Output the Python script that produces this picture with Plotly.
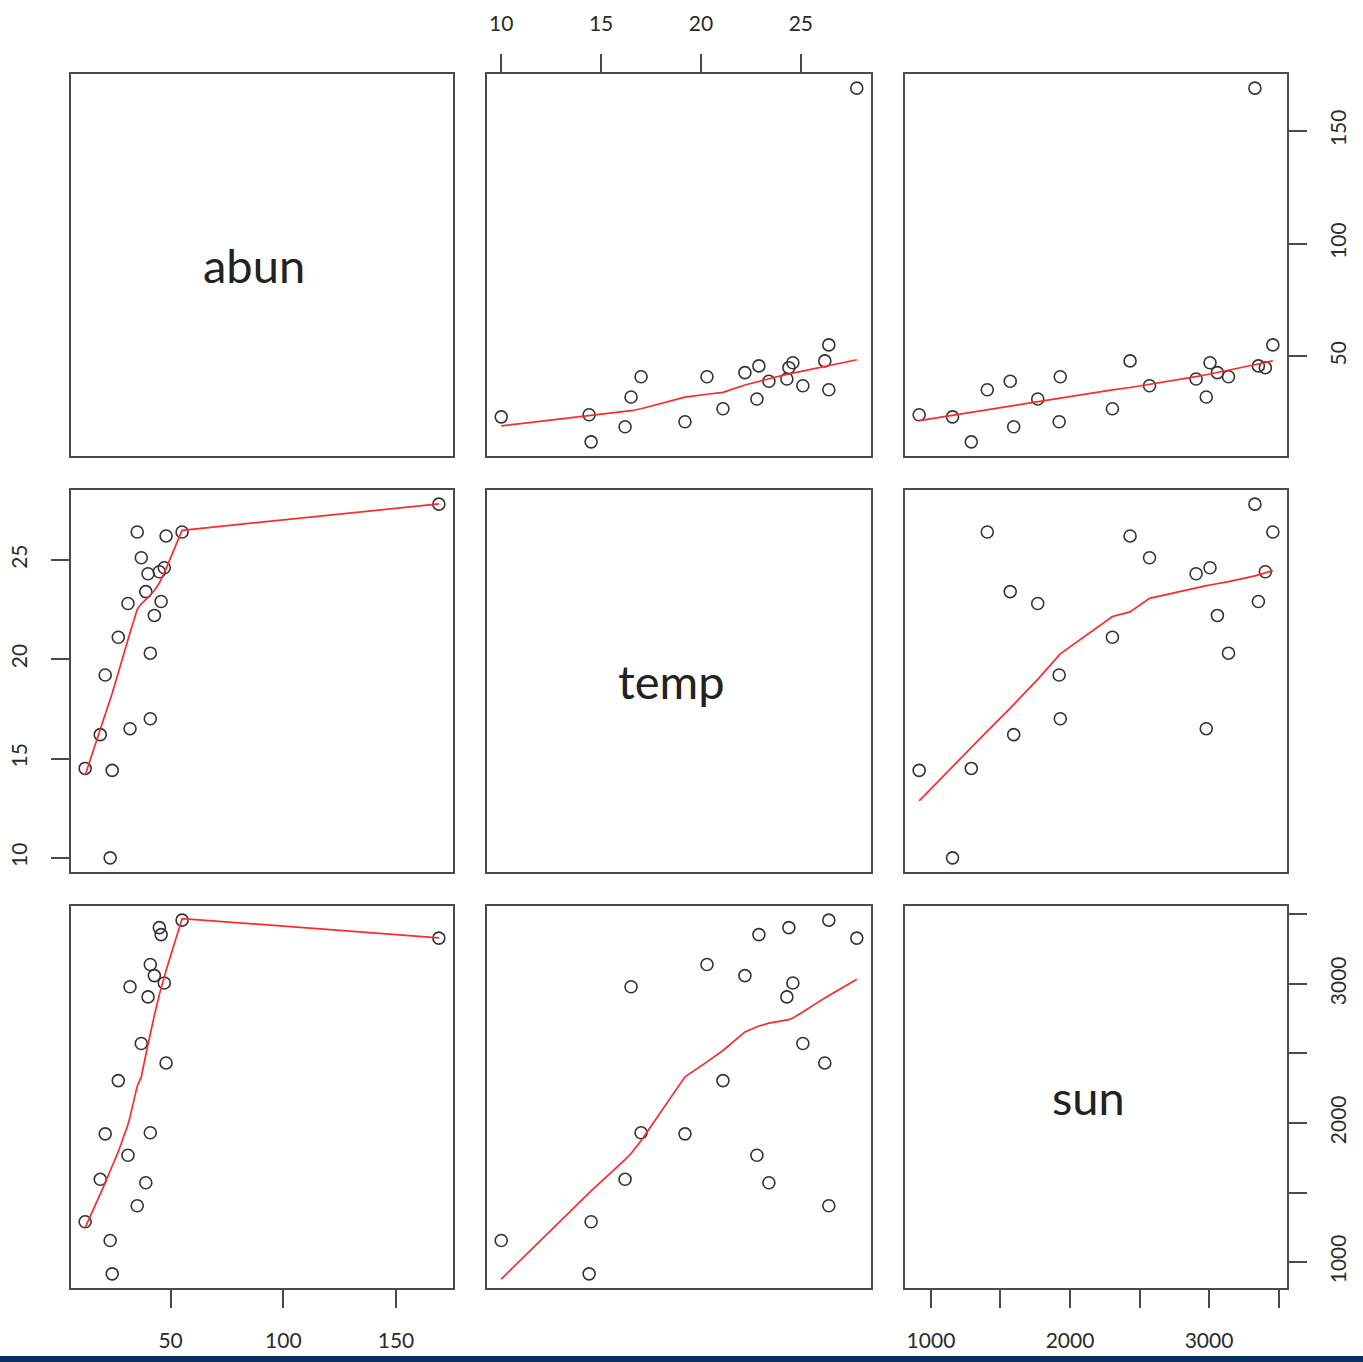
import numpy as np
import plotly.graph_objects as go
from plotly.subplots import make_subplots

# ---- data ----
abun = [23.2, 12.1, 24.1, 18.8, 32.0, 41.0, 21.0, 41.0, 26.8, 42.8, 31.1,
        45.8, 39.0, 40.0, 45.0, 47.2, 37.0, 48.0, 55.1, 35.2, 169.0]
temp = [10.0, 14.5, 14.4, 16.2, 16.5, 17.0, 19.2, 20.3, 21.1, 22.2, 22.8,
        22.9, 23.4, 24.3, 24.4, 24.6, 25.1, 26.2, 26.4, 26.4, 27.8]
sun = [1155, 1290, 915, 1595, 2980, 1930, 1922, 3140, 2305, 3060, 1768,
       3355, 1570, 2907, 3405, 3007, 2572, 2432, 3459, 1405, 3330]

var_names = ["abun", "temp", "sun"]
abun_ticks = [50, 100, 150]
temp_ticks = [10, 15, 20, 25]
sun_ticks = [1000, 1500, 2000, 2500, 3000, 3500]
sun_ticktext = ["1000", "", "2000", "", "3000", ""]

data = {"abun": np.array(abun, float), "temp": np.array(temp, float),
        "sun": np.array(sun, float)}
ticks = {"abun": (abun_ticks, [str(t) for t in abun_ticks]),
         "temp": (temp_ticks, [str(t) for t in temp_ticks]),
         "sun": (sun_ticks, sun_ticktext)}


# ---- R's lowess (clowess) ----
def _lowest(x, y, xs, nleft, nright, rw, userw):
    n = len(x)
    rng = x[-1] - x[0]
    h = max(xs - x[nleft], x[nright] - xs)
    h9, h1 = 0.999 * h, 0.001 * h
    w = np.zeros(n)
    a = 0.0
    j = nleft
    while j < n:
        r = abs(x[j] - xs)
        if r <= h9:
            w[j] = 1.0 if r <= h1 else (1 - (r / h) ** 3) ** 3
            if userw:
                w[j] *= rw[j]
            a += w[j]
        elif x[j] > xs:
            break
        j += 1
    nrt = j - 1
    if a <= 0:
        return 0.0, False
    sl = slice(nleft, nrt + 1)
    w[sl] /= a
    if h > 0:
        a = np.sum(w[sl] * x[sl])
        b = xs - a
        c = np.sum(w[sl] * (x[sl] - a) ** 2)
        if np.sqrt(c) > 0.001 * rng:
            b /= c
            w[sl] = w[sl] * (b * (x[sl] - a) + 1.0)
    return float(np.sum(w[sl] * y[sl])), True


def lowess(xv, yv, f=2 / 3, nsteps=3):
    o = np.argsort(xv, kind="stable")
    x = np.asarray(xv, float)[o]
    y = np.asarray(yv, float)[o]
    n = len(x)
    delta = 0.01 * (x[-1] - x[0])
    ns = max(min(int(f * n + 1e-7), n), 2)
    ys = np.zeros(n)
    rw = np.ones(n)
    it = 1
    while it <= nsteps + 1:
        nleft, nright, last, i = 0, ns - 1, -1, 0
        while True:
            if nright < n - 1:
                d1 = x[i] - x[nleft]
                d2 = x[nright + 1] - x[i]
                if d1 > d2:
                    nleft += 1
                    nright += 1
                    continue
            val, ok = _lowest(x, y, x[i], nleft, nright, rw, it > 1)
            ys[i] = val if ok else y[i]
            if last < i - 1:
                denom = x[i] - x[last]
                for j in range(last + 1, i):
                    al = (x[j] - x[last]) / denom
                    ys[j] = al * ys[i] + (1 - al) * ys[last]
            last = i
            cut = x[last] + delta
            i = last + 1
            while i < n:
                if x[i] > cut:
                    break
                if x[i] == x[last]:
                    ys[i] = ys[last]
                    last = i
                i += 1
            i = max(last + 1, i - 1)
            if last >= n - 1:
                break
        res = y - ys
        sc = np.mean(np.abs(res))
        if it > nsteps:
            break
        ar = np.abs(res)
        srt = np.sort(ar)
        cmad = 6 * srt[n // 2] if n % 2 else 3 * (srt[n // 2] + srt[n // 2 - 1])
        if cmad < 1e-7 * sc:
            break
        c9, c1 = 0.999 * cmad, 0.001 * cmad
        rw = np.where(ar <= c1, 1.0, np.where(ar <= c9, (1 - (ar / cmad) ** 2) ** 2, 0.0))
        it += 1
    return x, ys


def padded(v):
    lo, hi = v.min(), v.max()
    p = 0.04 * (hi - lo)
    return [lo - p, hi + p]


W, H = 1363, 1362
ML, MR, MT, MB = 71, 76, 74, 74
pw = W - ML - MR   # 1216
ph = H - MT - MB   # 1214

# panel pixel boxes (relative to plot area)
col_px = [(0, 382), (416, 800), (834, 1216)]
row_px = [(0, 382), (416, 798), (832, 1214)]   # from top

fig = make_subplots(rows=3, cols=3)

LINE = "#4a4a4a"
TXT = "#2b2b2b"
FONT = "Lato, 'Open Sans', sans-serif"

for r in range(1, 4):
    for c in range(1, 4):
        xv = var_names[c - 1]
        yv = var_names[r - 1]
        k = (r - 1) * 3 + c
        sfx = "" if k == 1 else str(k)
        if r != c:
            fig.add_trace(go.Scatter(
                x=data[xv], y=data[yv], mode="markers",
                marker=dict(symbol="circle-open", size=12, color="#333333",
                            line=dict(width=1.6, color="#333333")),
                showlegend=False, hoverinfo="skip"), row=r, col=c)
            lx, ly = lowess(data[xv], data[yv])
            fig.add_trace(go.Scatter(
                x=lx, y=ly, mode="lines",
                line=dict(color="#ff2a2a", width=1.7),
                showlegend=False, hoverinfo="skip"), row=r, col=c)
        else:
            # invisible trace so the diagonal panel (box + axes) is drawn
            fig.add_trace(go.Scatter(
                x=data[xv], y=data[yv], mode="markers",
                marker=dict(opacity=0), showlegend=False, hoverinfo="skip"),
                row=r, col=c)
            fig.add_annotation(text=xv, xref=f"x{sfx} domain", yref=f"y{sfx} domain",
                               x=0.5, y=0.5, xshift=-8, showarrow=False,
                               font=dict(size=47, color="#222222", family=FONT))
        x0, x1 = col_px[c - 1]
        t0, t1 = row_px[r - 1]
        base = dict(showgrid=False, zeroline=False, showline=True, mirror=True,
                    linecolor=LINE, linewidth=2, showticklabels=False, ticks="",
                    automargin=False)
        xa = dict(base, range=padded(data[xv]), domain=[x0 / pw, x1 / pw])
        ya = dict(base, range=padded(data[yv]),
                  domain=[1 - t1 / ph, 1 - t0 / ph])
        tickstyle = dict(ticks="outside", ticklen=18, tickwidth=2, tickcolor=LINE,
                         showticklabels=True,
                         tickfont=dict(size=21, color=TXT, family=FONT))
        if (r == 1 and c == 2) or (r == 3 and c in (1, 3)):
            tv, tt = ticks[xv]
            xa.update(tickstyle, tickvals=tv, ticktext=tt,
                      side="top" if r == 1 else "bottom",
                      ticklabelstandoff=15 if r == 1 else 15)
        if (r == 2 and c == 1) or (c == 3 and r in (1, 3)):
            tv, tt = ticks[yv]
            ya.update(tickstyle, tickvals=tv, ticktext=tt, tickangle=-90,
                      side="left" if c == 1 else "right",
                      ticklabelstandoff=16 if c == 1 else 14)
        fig.update_xaxes(xa, row=r, col=c)
        fig.update_yaxes(ya, row=r, col=c)

# dark strip along the bottom edge of the page
fig.add_shape(type="rect", xref="paper", yref="paper",
              x0=-ML / pw - 0.01, x1=1 + MR / pw + 0.01,
              y0=-(H + 4 - MT - ph) / ph, y1=-(1356 - MT - ph) / ph,
              fillcolor="#0b3160", line=dict(width=0), layer="above")

fig.update_layout(width=W, height=H, margin=dict(l=ML, r=MR, t=MT, b=MB),
                  plot_bgcolor="white", paper_bgcolor="white",
                  font=dict(family=FONT, color=TXT))

fig.write_html("out.html", config={"displayModeBar": False},
               post_script="document.body.style.margin='0';")
